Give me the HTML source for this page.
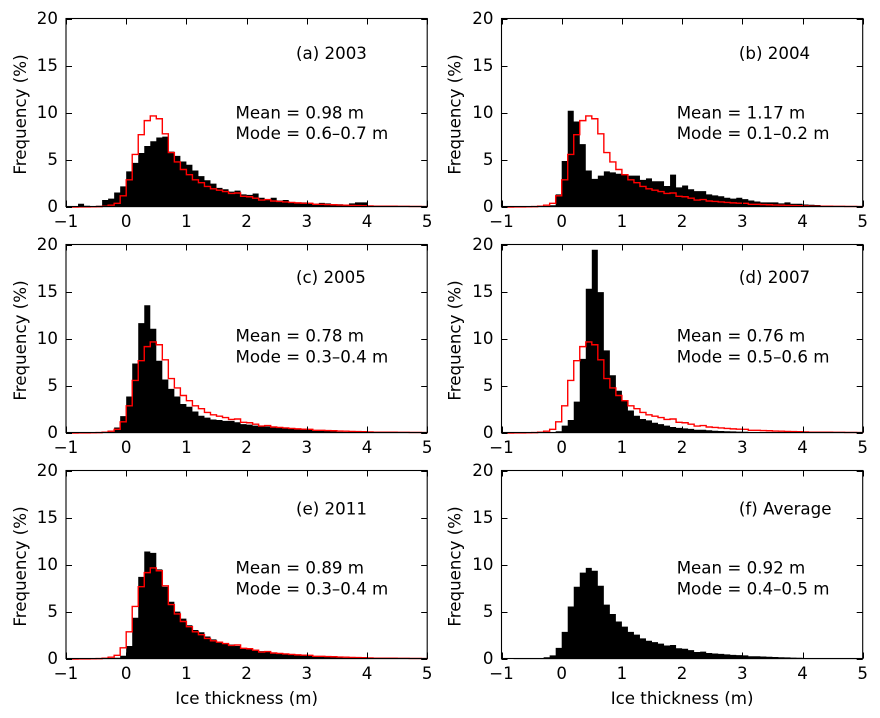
<!DOCTYPE html>
<html>
<head>
<meta charset="utf-8">
<title>Ice thickness histograms</title>
<style>
html,body{margin:0;padding:0;background:#fff;width:880px;height:718px;overflow:hidden}
svg{display:block}
text{font-family:"DejaVu Sans","Liberation Sans",sans-serif;font-size:16.67px;fill:#000}
</style>
</head>
<body>
<svg id="chart" width="880" height="718" viewBox="0 0 880 718" xmlns="http://www.w3.org/2000/svg"></svg>
<script>
// Histogram bins: 60 bins of 0.1 m starting at -1 m
const binStart = -1;
const binWidth = 0.1;
const xTicks = [-1, 0, 1, 2, 3, 4, 5];
const yTicks = [0, 5, 10, 15, 20];
const panelLabels = ['(a) 2003', '(b) 2004', '(c) 2005', '(d) 2007', '(e) 2011', '(f) Average'];
const meanLabels = ['Mean = 0.98 m', 'Mean = 1.17 m', 'Mean = 0.78 m', 'Mean = 0.76 m', 'Mean = 0.89 m', 'Mean = 0.92 m'];
const modeLabels = ['Mode = 0.6\u20130.7 m', 'Mode = 0.1\u20130.2 m', 'Mode = 0.3\u20130.4 m', 'Mode = 0.5\u20130.6 m', 'Mode = 0.3\u20130.4 m', 'Mode = 0.4\u20130.5 m'];

const averageValues = [0,0,0.02,0.02,0.03,0.05, .1,.2,.4,1.2,
  2.9,5.6,7.7,9.2,9.7,9.4,7.8,5.8,4.8,4.0,
  3.45,2.9,2.6,2.2,1.95,1.8,1.65,1.45,1.5,1.15,
  1.1,.95,.75,.8,.65,.6,.55,.5,.45,.42,
  .4,.3,.3,.27,.25,.22,.2,.18,.16,.15,
  .12,.1,.1,.1,.1,.08,.08,.07,.07,.06];
const values2003 = [0,.02,.35,.15,.1,.15, .75,.9,1.55,2.2,
  3.8,4.7,5.75,6.5,7,7.4,7.5,5.9,5.45,4.85,
  4.5,3.9,3.3,2.85,2.5,2.05,1.9,1.65,1.75,1.35,
  1.3,1.45,1,.85,1,.7,.75,.45,.45,.5,
  .45,.35,.45,.4,.3,.3,.25,.4,.5,.5,
  .05,.03,.03,.02,.02,.02,.02,.01,.01,.01];
const values2004 = [0,.02,.02,.02,.02,.03, .05,.1,.2,1.35,
  4.9,10.25,9.1,6.7,3.9,3,3.35,3.8,3.7,3.55,
  3.45,3.35,3.35,2.9,3.05,2.75,2.75,2.25,3.45,2.1,
  2.3,1.9,1.7,1.7,1.35,1.25,1.15,1,.9,1,
  .85,.7,.6,.5,.5,.5,.4,.5,.35,.35,
  .28,.25,.22,.1,.05,.05,.04,.03,.02,.02];
const values2005 = [0,0,.02,.02,.03,.05, .08,.15,.6,1.8,
  3.9,7.4,11.7,13.6,11.1,7.7,5.7,4.7,3.9,3.1,
  2.8,2.3,1.85,1.65,1.45,1.4,1.3,1.3,1.15,.95,
  .9,.8,.75,.7,.65,.6,.55,.5,.4,.4,
  .35,.3,.25,.22,.2,.15,.12,.1,.08,.06,
  .05,.02,.02,.02,.02,.01,.01,.01,.01,.01];
const values2007 = [0,0,0,.01,.02,.02, .03,.05,.1,.2,
  .8,1.4,3.35,7.9,15.35,19.5,15,8.8,6.15,4.5,
  3.45,2.4,1.85,1.5,1.35,1.1,.95,.8,.65,.55,
  .5,.45,.35,.35,.3,.25,.22,.2,.18,.16,
  .15,.12,.1,.1,.08,.08,.06,.05,.05,.04,
  .04,.03,.03,.02,.02,.02,.01,.01,.01,.01];
const values2011 = [0,0,0,0,.01,.01, .02,.05,.15,.35,
  1.4,4.4,8.75,11.45,11.3,9.55,7.7,6.1,5.05,4.3,
  3.6,3.1,2.85,2.4,2.1,1.85,1.7,1.55,1.4,1.15,
  1.05,.95,.85,.75,.7,.6,.55,.45,.42,.38,
  .35,.3,.25,.22,.2,.18,.15,.12,.1,.08,
  .06,.05,.04,.03,.03,.02,.02,.02,.01,.01];
const panelValues = [values2003, values2004, values2005, values2007, values2011, averageValues];
const panelSlugs = ['2003', '2004', '2005', '2007', '2011', 'average'];
const NS = 'http://www.w3.org/2000/svg';
const svg = document.getElementById('chart');

function mk(tag, parent) {
  const el = document.createElementNS(NS, tag);
  parent.appendChild(el);
  return el;
}
function stepPoints(vals, sx, sy) {
  let d = 'M' + sx(binStart).toFixed(2) + ' ' + sy(0).toFixed(2);
  vals.forEach(function (v, i) {
    const a = sx(binStart + i * binWidth).toFixed(2);
    const b = sx(binStart + (i + 1) * binWidth).toFixed(2);
    const y = sy(v).toFixed(2);
    d += 'L' + a + ' ' + y + 'L' + b + ' ' + y;
  });
  return d;
}
function label(parent, str, x, y, anchor, name) {
  const t = mk('text', parent);
  t.setAttribute('x', x);
  t.setAttribute('y', y);
  t.setAttribute('text-anchor', anchor);
  
  
  t.textContent = str;
  return t;
}

panelValues.forEach(function (vals, p) {
  const col = p % 2, row = Math.floor(p / 2);
  const L = col ? 501.5 : 66, R = col ? 862.7 : 427.2;
  const T = 18.5 + row * 226, B = 206.5 + row * 226;
  const sx = function (v) { return L + (v - (-1)) / 6 * (R - L); };
  const sy = function (v) { return B - v / 20 * (B - T); };
  // marks sit a fraction of a pixel lower than the frame line, as in the reference
  const my = function (v) { return sy(v) + 0.6; };
  const g = mk('g', svg);
  
  

  const bars = mk('path', g);
  
  
  bars.setAttribute('d', stepPoints(vals, sx, my) + 'L' + sx(5).toFixed(2) + ' ' + my(0).toFixed(2) + 'Z');
  bars.setAttribute('fill', '#000');

  if (p < 5) {
    const line = mk('path', g);
    
    
    line.setAttribute('d', stepPoints(averageValues, sx, my) + 'L' + sx(5).toFixed(2) + ' ' + my(0).toFixed(2));
    line.setAttribute('fill', 'none');
    line.setAttribute('stroke', '#ff0000');
    line.setAttribute('stroke-width', '1.4');
  }

  xTicks.forEach(function (v) {
    const tick = mk('path', g);
    
    
    const x = Math.round(sx(v)) + 0.5;
    tick.setAttribute('d', 'M' + x + ' ' + B + 'v-6M' + x + ' ' + T + 'v6');
    tick.setAttribute('stroke', '#000');
    tick.setAttribute('stroke-width', '1');
    label(g, String(v).replace('-', '\u2212'), sx(v), B + 20.5, 'middle', 'x-tick-label');
  });
  yTicks.forEach(function (v) {
    const tick = mk('path', g);
    
    
    const y = Math.round(sy(v)) + 0.5;
    tick.setAttribute('d', 'M' + L + ' ' + y + 'h6M' + R + ' ' + y + 'h-6');
    tick.setAttribute('stroke', '#000');
    tick.setAttribute('stroke-width', '1');
    label(g, String(v), L - 8, sy(v) + 5.5, 'end', 'y-tick-label');
  });

  const frame = mk('rect', g);
  
  
  frame.setAttribute('x', L);
  frame.setAttribute('y', T);
  frame.setAttribute('width', R - L);
  frame.setAttribute('height', B - T);
  frame.setAttribute('fill', 'none');
  frame.setAttribute('stroke', '#000');
  frame.setAttribute('stroke-width', '1.1');

  const yx = col ? 460.5 : 26;
  const yy = T + 96;
  const yl = label(g, 'Frequency (%)', yx, yy, 'middle', 'y-axis-title');
  yl.setAttribute('transform', 'rotate(-90 ' + yx + ' ' + yy + ')');

  const tx = col ? 738.9 : 296;
  const sx2 = col ? 676.7 : 235.5;
  const rowTitle = [59, 283, 514.5][row];
  const rowMean = [118.3, 341.7, 573.7][row];
  const rowMode = [139, 362.4, 594.4][row];
  label(g, panelLabels[p], tx, rowTitle, 'start', 'panel-title');
  label(g, meanLabels[p], sx2, rowMean, 'start', 'mean-annotation');
  label(g, modeLabels[p], sx2, rowMode, 'start', 'mode-annotation');

  if (row === 2) {
    label(g, 'Ice thickness (m)', (L + R) / 2, B + 45.5, 'middle', 'x-axis-title');
  }
});
</script>
</body>
</html>
